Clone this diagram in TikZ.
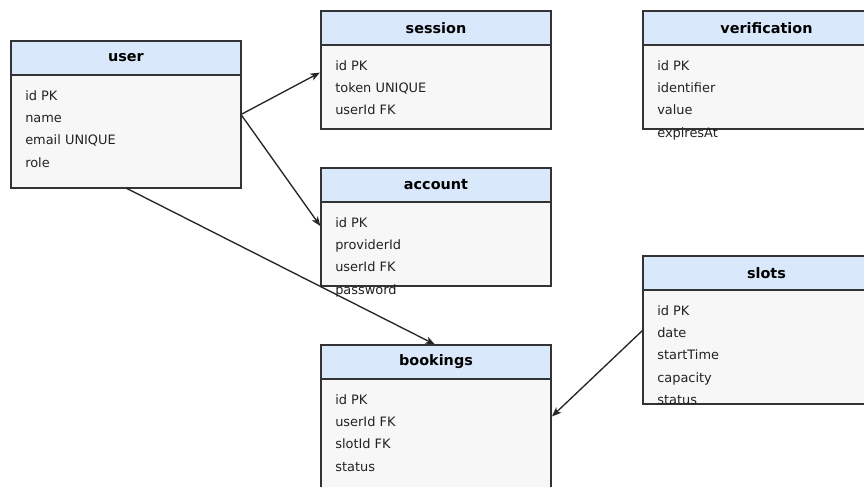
\documentclass[tikz,border=0pt]{standalone}
\usepackage{fontspec}
\setmainfont{DejaVu Sans}
\usetikzlibrary{arrows.meta,fit,calc}
\definecolor{hdrfill}{HTML}{DAE8FC}
\definecolor{bodyfill}{HTML}{F7F7F7}
\definecolor{edgecol}{HTML}{333333}
\definecolor{txtcol}{HTML}{222222}
\tikzset{
  tline/.style={draw=edgecol, line width=1.1pt},
  rowtext/.style={anchor=west, inner sep=0pt, text=txtcol, text height=7.3pt, text depth=2pt,
    font=\fontsize{9.7}{11}\selectfont},
  titletext/.style={inner sep=0pt, text=black, font=\bfseries\fontsize{10.8}{12}\selectfont},
  tablebox/.style={inner sep=0pt, outer sep=0pt},
  conn/.style={draw=black!85, line width=1pt, -{Stealth[length=7pt,width=5.5pt,inset=1.8pt]}, shorten >=1pt},
}
% #1 name, #2 left, #3 top, #4 right, #5 bottom, #6 title, #7 rows
\newcommand\erTable[7]{%
  \fill[bodyfill] (#2,#3) rectangle (#4,#5);
  \fill[hdrfill] (#2,#3) rectangle (#4,#3+34);
  \draw[tline] (#2,#3+34) -- (#4,#3+34);
  \node[tablebox, fit={(#2,#3) (#4,#5)}] (#1) {};
  \draw[tline] (#1.north west) rectangle (#1.south east);
  \node[titletext] (#1-title) at (#2/2+#4/2, #3+17) {#6};
  \foreach \t [count=\i] in {#7} {
    \node[rowtext] (#1-row\i) at (#2+14, #3+34+21.5+\i*22.4-22.4) {\t};
  }
}
\begin{document}
\begin{tikzpicture}[x=0.75pt,y=-0.75pt]
\useasboundingbox (0,0) rectangle (864,486);
\clip (0,0) rectangle (864,486);
\fill[white] (0,0) rectangle (864,486);

\erTable{user}{11}{41}{241}{188}{user}{id PK,name,email UNIQUE,role}
\erTable{session}{321}{11}{551}{129}{session}{id PK,token UNIQUE,userId FK}
\erTable{verification}{643}{11}{890}{129}{verification}{id PK,identifier,value,expiresAt}
\erTable{account}{321}{168}{551}{286}{account}{id PK,providerId,userId FK,password}
\erTable{bookings}{321}{345}{551}{495}{bookings}{id PK,userId FK,slotId FK,status}
\erTable{slots}{643}{256}{890}{404}{slots}{id PK,date,startTime,capacity,status}

\draw[conn] (user.east) -- ([yshift=-1.5pt]session.west);
\draw[conn] (user.east) -- (account.west);
\draw[conn] (user.south) -- (bookings.north);
\draw[conn] (slots.west) -- ([yshift=2pt]bookings.east);
\end{tikzpicture}
\end{document}
